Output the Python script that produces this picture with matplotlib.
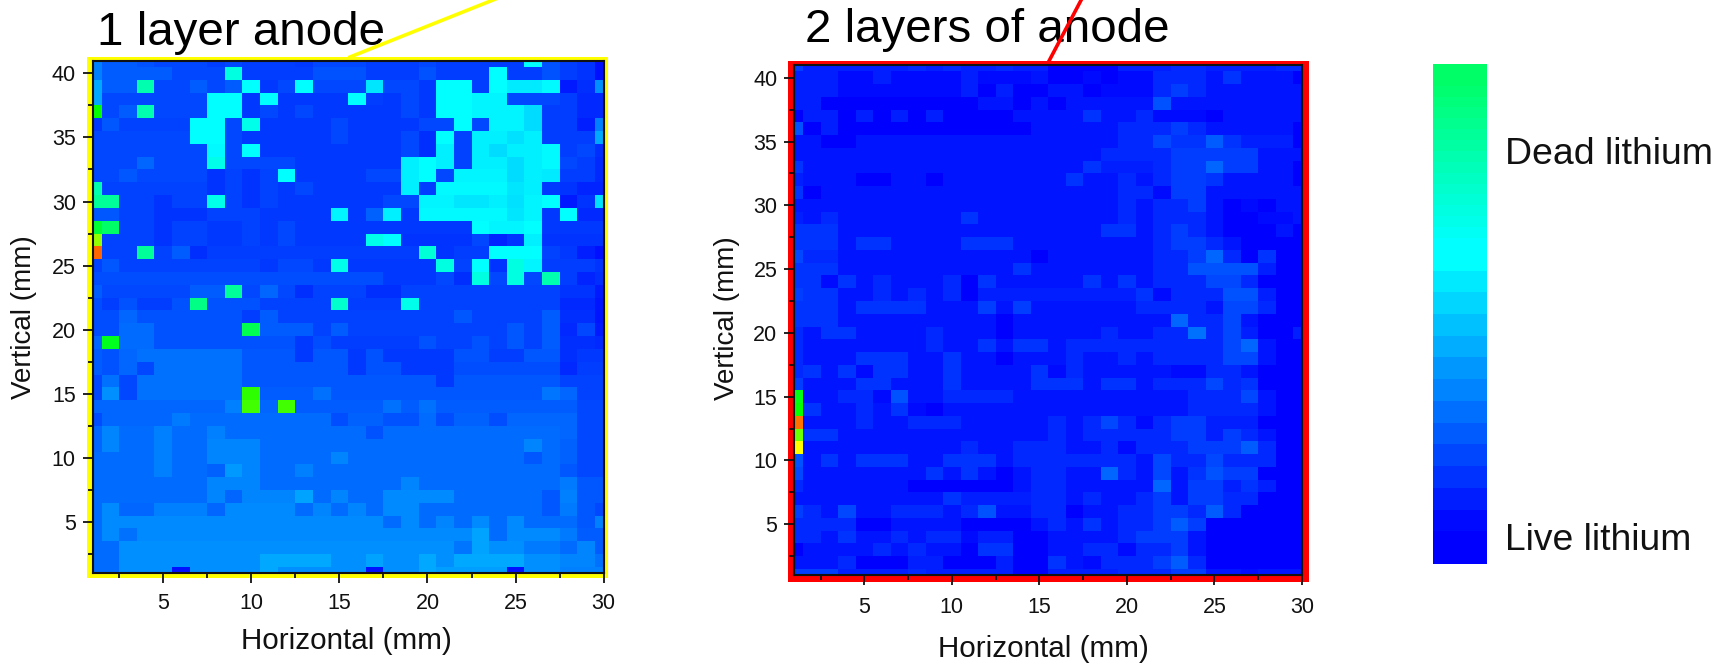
import numpy as np
import matplotlib
matplotlib.use("Agg")
import matplotlib.pyplot as plt
from matplotlib.colors import LinearSegmentedColormap
from matplotlib.lines import Line2D
from matplotlib.patches import Rectangle

plt.rcParams['font.family'] = ['Liberation Sans', 'DejaVu Sans']

W, H = 1725, 666

# rows run from 41 mm (top) down to 1 mm
one_layer = [
    [25,18,18,16,14,14,14,12,14,12,12,12,11,14,14,14,12,12,12,14,12,12,12,12,12,50,16,12,10,3],
    [25,18,18,18,18,14,14,14,53,12,12,12,12,16,16,16,12,12,12,16,12,12,12,50,12,12,16,12,10,3],
    [33,18,18,58,14,14,18,14,18,50,11,14,50,14,14,14,45,14,14,11,50,50,12,50,46,46,49,5,9,28],
    [33,14,14,14,14,14,14,50,50,11,50,11,11,11,11,50,12,11,14,11,50,50,48,48,14,14,14,12,8,8],
    [75,14,18,58,14,14,14,50,50,11,14,11,14,11,11,11,11,11,14,11,50,50,48,48,48,43,12,12,8,8],
    [11,17,13,13,13,13,50,50,14,52,11,11,11,11,14,11,11,11,11,14,14,50,14,48,48,43,12,12,6,25],
    [14,14,14,14,14,14,50,50,14,11,11,11,11,11,14,11,11,11,14,9,50,13,47,47,44,47,12,12,12,33],
    [14,14,14,14,14,14,14,49,14,50,11,11,11,11,11,11,11,11,14,9,47,13,47,43,47,47,49,12,14,9],
    [14,14,14,20,14,14,14,52,14,14,14,14,11,11,11,11,11,11,47,50,47,13,47,47,43,47,49,14,12,8],
    [14,14,17,14,14,14,14,10,13,10,13,50,11,11,11,11,14,14,47,50,14,48,48,48,43,47,46,12,12,8],
    [58,13,13,13,13,13,13,10,13,10,13,11,14,11,11,11,11,11,47,12,49,49,49,49,45,47,11,10,7,7],
    [60,60,13,13,10,13,13,52,13,10,13,11,11,11,11,11,11,14,14,48,48,45,45,47,44,48,50,5,10,44],
    [17,17,13,13,10,10,10,13,13,13,11,11,11,11,48,11,19,47,11,49,49,49,49,49,45,48,11,50,8,8],
    [70,65,13,13,10,13,13,11,11,13,11,14,11,11,11,11,11,11,11,11,11,11,50,48,48,50,11,11,11,11],
    [82,13,13,13,10,13,13,11,11,13,11,14,11,11,11,11,52,50,10,10,10,10,14,7,10,47,10,10,10,10],
    [96,13,13,60,13,18,9,12,12,12,12,12,12,12,12,12,12,12,12,54,10,12,12,50,50,50,13,11,6,3],
    [13,17,13,13,13,13,13,13,13,13,11,14,14,11,52,11,11,11,11,11,53,13,50,10,53,48,12,12,12,10],
    [15,15,15,15,15,15,15,15,15,15,15,15,15,15,15,15,15,11,11,11,14,9,53,14,53,14,58,12,7,9],
    [18,14,14,14,14,14,18,18,60,14,20,14,9,13,13,13,9,9,13,13,13,13,13,13,13,13,13,10,10,5],
    [15,12,16,12,12,16,62,16,16,16,13,13,13,13,55,12,12,12,52,13,13,13,13,13,13,13,13,8,8,4],
    [15,15,20,16,16,16,16,16,16,12,18,13,13,13,13,13,13,13,13,13,13,17,13,13,13,13,18,9,9,4],
    [15,15,21,21,16,16,16,16,16,67,18,18,18,13,18,13,13,13,13,13,13,13,13,13,17,13,18,8,14,5],
    [20,72,21,21,16,16,16,16,16,16,16,16,11,15,12,12,12,12,12,16,13,13,16,13,17,13,18,9,9,8],
    [18,16,20,22,22,22,22,22,22,17,17,17,11,17,17,11,16,11,11,11,11,16,16,12,12,17,17,9,11,11],
    [18,16,20,14,22,22,22,22,22,17,17,17,17,17,17,11,16,16,11,11,11,15,15,15,15,15,15,8,12,12],
    [14,22,14,22,22,22,22,22,22,17,17,17,17,17,17,17,17,17,17,17,11,17,17,17,17,17,17,13,13,13],
    [14,28,14,22,22,22,22,22,22,77,18,18,18,22,17,17,17,17,17,17,17,17,17,17,17,17,23,20,13,13],
    [20,20,20,20,20,20,20,20,25,78,20,78,18,18,18,18,18,22,18,22,18,18,18,18,18,18,18,18,14,14],
    [15,20,20,20,20,24,21,21,21,21,21,21,21,21,15,19,19,16,16,21,15,19,19,15,20,20,20,20,14,14],
    [20,26,21,21,25,21,21,25,21,21,21,21,21,21,21,21,16,21,21,21,21,21,21,21,21,21,21,20,14,14],
    [20,26,21,21,25,21,21,26,26,26,21,21,21,21,21,21,21,21,21,21,21,21,21,21,21,26,21,19,14,14],
    [21,21,21,21,25,21,21,26,26,26,21,21,21,21,26,21,21,21,21,21,21,21,21,21,21,17,21,19,14,14],
    [21,21,21,21,25,21,21,19,30,26,21,21,25,21,21,21,21,21,21,21,21,21,21,21,21,21,21,17,14,14],
    [21,21,21,21,21,21,21,26,26,26,21,21,21,21,21,21,21,21,26,21,21,21,21,21,21,21,21,24,17,17],
    [21,21,21,21,21,21,21,26,20,26,26,26,32,21,26,21,21,27,27,27,27,21,21,21,21,21,17,25,17,17],
    [21,27,20,20,25,25,25,20,27,27,27,27,21,26,21,26,21,27,27,21,21,21,21,21,21,21,17,24,17,14],
    [21,27,27,27,27,27,27,27,27,27,27,27,27,27,27,27,27,21,27,21,26,21,27,21,27,21,21,21,17,25],
    [21,27,22,27,27,27,27,27,27,27,27,27,27,27,27,27,27,27,27,27,27,27,32,21,27,27,27,24,18,18],
    [21,21,28,28,28,28,28,28,28,28,28,28,28,28,28,28,28,28,28,28,28,23,32,28,28,24,24,21,26,18],
    [21,21,28,28,28,28,28,28,28,28,33,33,33,33,28,28,32,28,28,33,28,33,33,33,33,28,28,26,26,22],
    [21,21,28,28,28,3,28,28,28,28,33,28,28,28,28,28,3,28,28,33,31,31,31,31,3,28,28,25,25,25],
]

two_layers = [
    [12,6,6,6,6,6,6,8,6,8,6,6,8,6,6,0,0,0,0,6,6,6,8,8,6,6,6,6,8,8],
    [6,6,6,2,2,6,2,2,2,2,6,2,2,2,4,0,0,2,0,2,2,8,8,8,4,10,4,4,4,0],
    [6,6,6,2,2,2,2,2,2,2,6,0,6,0,0,4,4,0,2,2,2,8,12,8,4,4,4,4,4,4],
    [6,6,0,0,0,0,0,0,0,0,0,4,4,0,4,0,4,4,4,4,4,16,4,4,4,4,4,4,4,4],
    [0,6,6,0,6,0,6,0,6,0,0,0,0,4,4,4,4,10,4,4,8,2,2,2,0,4,4,4,4,4],
    [16,0,6,0,0,0,0,0,0,0,0,0,0,0,4,4,4,4,4,8,8,8,12,8,4,4,4,4,4,0],
    [4,4,0,0,4,4,4,4,4,4,4,4,4,4,4,4,4,4,4,8,8,14,10,10,18,10,6,6,6,0],
    [4,4,4,4,4,4,4,4,4,4,4,4,4,4,4,4,4,4,8,8,8,8,12,12,12,12,12,4,4,4],
    [10,4,4,4,4,4,4,4,4,4,4,4,4,4,4,4,4,10,6,6,6,8,12,12,20,12,12,4,4,0],
    [6,4,4,4,0,0,4,4,0,4,4,4,4,4,4,4,10,4,4,8,4,8,12,12,10,4,4,4,4,0],
    [10,0,4,4,4,4,4,4,4,4,4,4,4,4,4,4,4,4,4,8,8,2,12,12,4,4,4,4,4,4],
    [4,4,4,4,4,4,4,4,4,4,4,4,4,4,4,4,4,4,4,8,4,8,8,12,4,0,2,0,4,4],
    [6,4,8,4,4,4,4,4,4,4,10,4,4,4,4,4,4,4,4,8,4,8,8,8,4,0,0,2,2,4],
    [10,10,10,4,4,4,4,4,4,4,4,4,4,4,4,4,4,4,10,10,4,8,12,8,4,0,0,0,4,0],
    [10,10,10,4,10,10,4,4,4,4,10,10,10,4,4,4,4,4,4,4,4,8,12,12,8,4,0,0,0,0],
    [14,8,8,4,4,4,4,4,4,4,4,4,4,4,0,4,4,4,4,4,4,8,8,12,20,8,0,10,0,0],
    [10,10,10,4,4,4,4,4,4,4,4,4,4,10,4,4,4,4,4,4,4,8,8,16,16,16,16,6,0,0],
    [10,10,2,10,4,8,4,4,4,8,0,10,4,4,4,4,4,10,4,10,4,8,8,8,14,14,8,0,0,0],
    [12,10,10,4,4,8,4,8,4,8,0,6,6,6,6,6,6,6,6,6,10,2,8,8,8,16,16,6,0,0],
    [10,10,10,4,10,10,10,10,4,4,4,12,4,12,4,4,4,4,4,4,8,8,8,8,4,14,14,8,0,0],
    [10,10,10,4,4,4,4,4,4,4,4,4,0,4,4,4,4,4,4,4,4,4,20,8,8,14,4,0,0,0],
    [8,4,10,10,4,4,4,4,8,4,4,4,0,4,4,4,4,4,8,4,4,8,8,22,8,14,6,0,0,6],
    [8,4,4,4,4,4,4,4,8,4,4,10,4,10,10,4,8,8,8,8,8,8,8,8,8,14,20,4,0,0],
    [8,4,4,4,10,10,10,4,4,10,4,4,0,4,4,4,8,4,4,8,4,8,8,8,8,14,14,4,0,0],
    [8,10,4,10,2,10,10,4,4,10,4,4,4,4,10,2,8,4,4,4,4,4,2,2,8,8,4,0,0,0],
    [12,4,4,4,10,10,4,4,4,10,4,4,4,4,10,10,10,4,10,10,4,8,8,8,14,8,10,0,0,0],
    [73,4,4,8,8,2,16,4,4,8,8,8,8,4,4,4,4,4,4,4,4,4,4,8,8,8,14,4,0,0],
    [75,10,4,4,8,4,10,2,0,4,4,4,4,4,4,4,4,4,4,4,4,4,4,8,8,8,8,4,0,0],
    [95,4,4,4,8,4,4,8,8,8,4,4,4,4,4,8,4,8,14,8,2,8,12,12,6,6,6,0,0,0],
    [80,10,10,4,4,4,4,4,4,4,4,4,4,4,4,8,4,8,8,8,8,8,12,12,6,12,8,4,0,0],
    [87,4,4,4,4,4,4,4,4,4,8,4,4,8,8,8,4,4,8,2,8,8,8,12,12,12,18,8,0,0],
    [16,4,10,4,10,10,10,4,4,10,10,10,4,8,8,8,8,8,8,8,4,14,8,8,14,8,8,8,0,0],
    [14,4,4,4,4,4,4,4,10,4,10,4,0,4,8,8,4,4,20,8,4,14,4,10,16,12,12,0,0,0],
    [8,4,4,4,4,4,4,0,0,0,0,0,0,4,8,8,4,4,4,4,4,20,4,12,12,6,10,6,0,0],
    [4,4,4,4,4,4,4,4,4,10,6,6,6,6,8,8,4,8,4,4,8,12,4,12,12,8,8,0,0,0],
    [12,8,4,14,4,4,8,8,8,4,8,16,4,4,8,8,0,4,4,8,8,12,12,8,18,8,0,0,0,0],
    [8,8,8,8,0,0,4,4,4,4,0,0,0,0,4,8,4,10,4,8,8,12,18,12,0,0,0,0,0,0],
    [8,8,4,10,4,4,8,4,8,8,2,6,6,0,0,4,4,4,4,8,12,12,12,4,0,0,0,0,0,0],
    [0,4,4,4,4,8,4,8,4,4,0,10,10,0,0,4,4,8,8,2,8,8,12,4,0,0,0,0,0,0],
    [4,4,4,8,0,0,0,6,6,0,0,0,6,0,0,10,4,2,8,8,8,12,18,8,0,0,0,0,0,0],
    [12,12,12,6,6,6,6,8,6,6,6,6,6,0,0,6,6,6,6,8,8,8,12,12,4,4,2,4,4,4],
]

# colour bar bands, bottom to top: stepped up to cyan, smoother above it
bar_levels = [0,0,0,2,2,6,6,10,10,14,14,18,18,22,22,26,26,30,30,34,34,38,38,42,42,46,46,
              50,50,50,51,52,53,54,55,56,57,58,59,60,61,62,63,64,65,65]

horizontal = np.arange(1, 31)
vertical = np.arange(41, 0, -1)
x_major = [5, 10, 15, 20, 25, 30]
x_minor = [2.5, 7.5, 12.5, 17.5, 22.5, 27.5]
y_major = [5, 10, 15, 20, 25, 30, 35, 40]
y_minor = [2.5, 7.5, 12.5, 17.5, 22.5, 27.5, 32.5, 37.5]

cmap = LinearSegmentedColormap.from_list("lithium", [
    (0.0, (0, 0, 1)),
    (0.5, (0, 1, 1)),
    (0.75, (0, 1, 0)),
    (0.87, (1, 1, 0)),
    (0.94, (1, 0.5, 0)),
    (1.0, (1, 0.2, 0)),
], N=512)


def px_box(x0, y0, x1, y1):
    # pixel box (top-left origin) to figure fractions
    return [x0 / W, 1 - y1 / H, (x1 - x0) / W, (y1 - y0) / H]


def panel(fig, box, frame, values, title, title_xy, line, colour, xlabel_xy, ylabel_xy, xpad):
    fx, fy, fw, fh = px_box(*frame)
    fig.add_artist(Rectangle((fx, fy), fw, fh, transform=fig.transFigure,
                             facecolor=colour, edgecolor='none', zorder=-1))

    ax = fig.add_axes(px_box(*box))
    ax.patch.set_alpha(0)
    ax.pcolormesh(horizontal, vertical, np.array(values), cmap=cmap, vmin=0, vmax=100,
                  shading='nearest', antialiased=False)
    ax.set_xlim(1, 30)
    ax.set_ylim(1, 41)
    ax.set_xticks(x_major)
    ax.set_xticks(x_minor, minor=True)
    ax.set_yticks(y_major)
    ax.set_yticks(y_minor, minor=True)
    ax.tick_params(which='major', length=7.2, width=1.3, labelsize=15.5, pad=5, color='#111111',
                   labelcolor='#111111')
    ax.tick_params(which='minor', length=3.6, width=1.3, color='#111111')
    ax.tick_params(axis='x', which='major', pad=xpad)
    for s in ax.spines.values():
        s.set_linewidth(1.5)
        s.set_color('#111111')
    ax.set_xlabel("Horizontal (mm)", fontsize=21.3, color='#111111', va='center', ha='center')
    ax.set_ylabel("Vertical (mm)", fontsize=20, color='#111111', va='center', ha='center')
    ax.xaxis.set_label_coords(xlabel_xy[0] / W, 1 - xlabel_xy[1] / H, transform=fig.transFigure)
    ax.yaxis.set_label_coords(ylabel_xy[0] / W, 1 - ylabel_xy[1] / H, transform=fig.transFigure)

    fig.text(title_xy[0] / W, 1 - title_xy[1] / H, title, fontsize=34.2, color='black',
             ha='left', va='baseline')
    (x0, y0), (x1, y1) = line
    fig.add_artist(Line2D([x0 / W, x1 / W], [1 - y0 / H, 1 - y1 / H], color=colour,
                          lw=2.6, transform=fig.transFigure, zorder=5))


fig = plt.figure(figsize=(W / 100, H / 100), dpi=100)

panel(fig, (92.7, 60.5, 603.7, 573.3), (86.7, 57.3, 607.7, 577.7), one_layer, "1 layer anode", (97, 45),
      ((350, 57), (525.6, -13)), '#ffff00', (346, 641), (24, 317), 7)
panel(fig, (794.3, 65, 1302, 575.3), (788.3, 61, 1309, 582.3), two_layers, "2 layers of anode", (805, 41.7),
      ((1049, 61), (1088, -13)), '#ff0000', (1043, 649), (727, 318), 8.5)

cax = fig.add_axes(px_box(1433, 64, 1487, 564))
cax.imshow(np.array(bar_levels)[::-1].reshape(-1, 1), cmap=cmap, vmin=0, vmax=100,
           aspect='auto', interpolation='nearest')
cax.axis('off')

fig.text(1505 / W, 1 - 164.5 / H, "Dead lithium", fontsize=26.9, color='#111111', ha='left', va='baseline')
fig.text(1505 / W, 1 - 550 / H, "Live lithium", fontsize=26.8, color='#111111', ha='left', va='baseline')

fig.savefig("out.png", dpi=100)
